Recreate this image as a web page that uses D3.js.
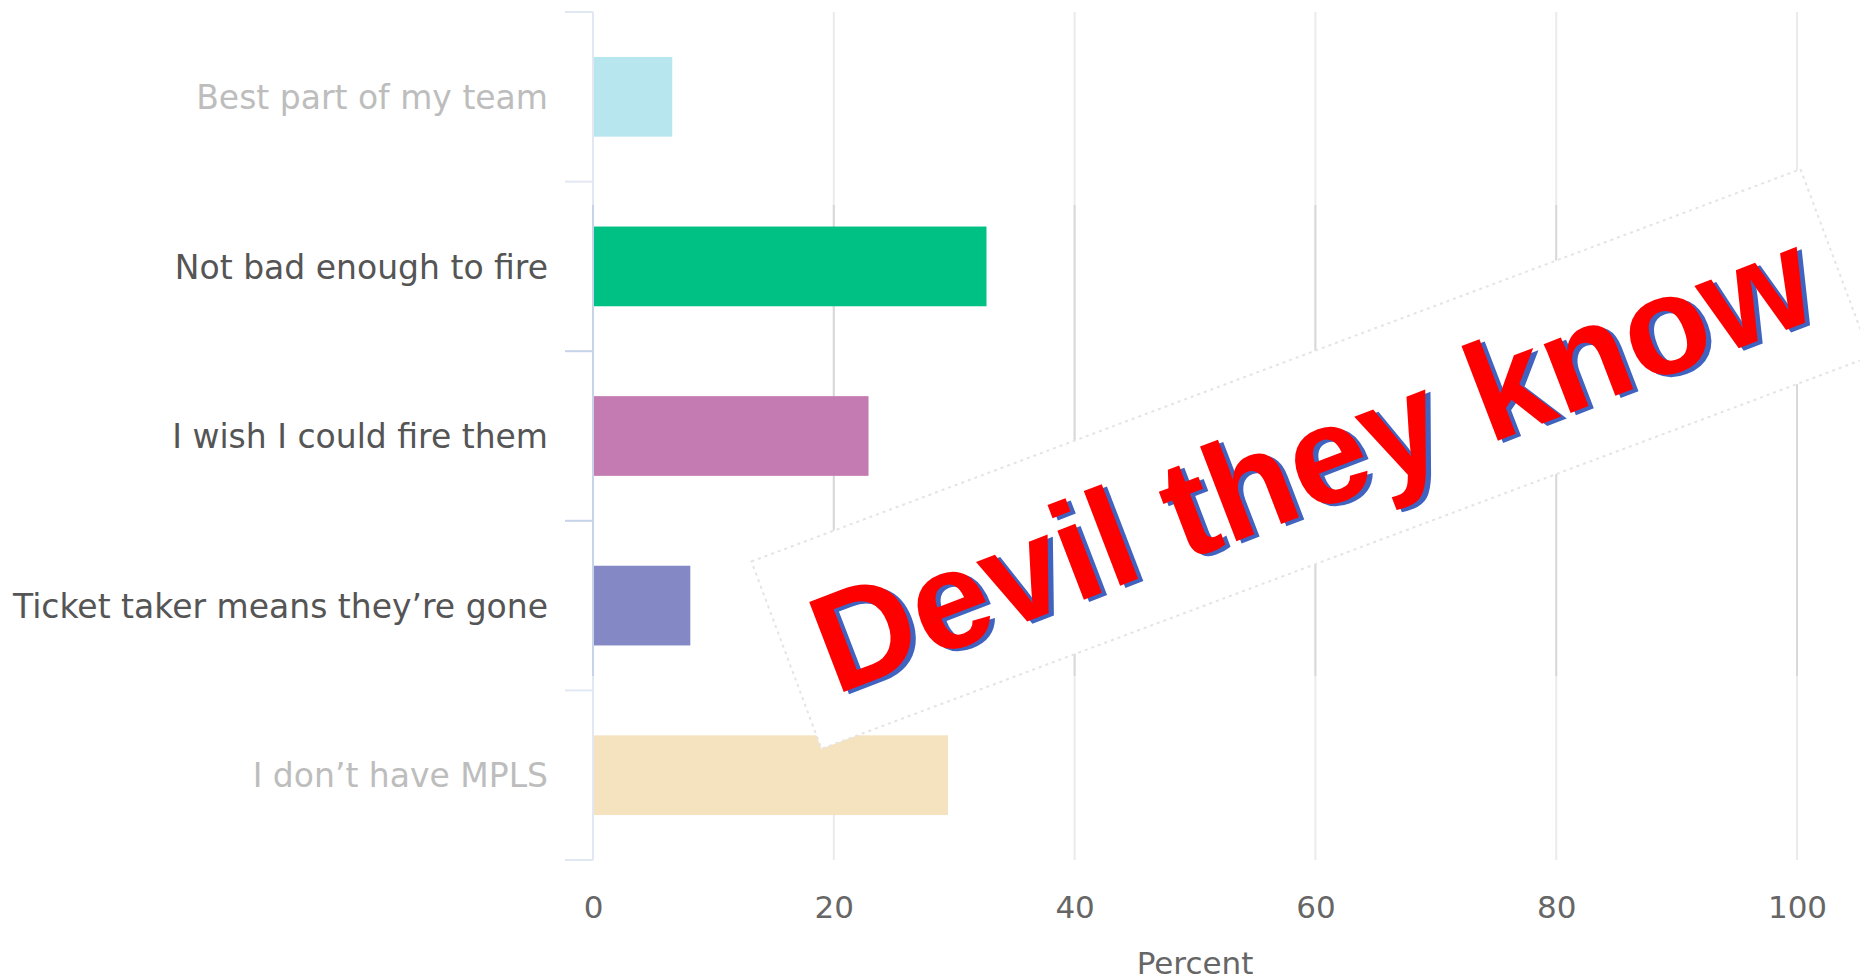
<!DOCTYPE html>
<html>
<head>
<meta charset="utf-8">
<script src="https://cdn.jsdelivr.net/npm/d3@7"></script>
<style>
  body { margin: 0; background: #fff; }
  svg { display: block; }
</style>
</head>
<body>
<svg id="chart"></svg>
<script>
let categories = ["Best part of my team", "Not bad enough to fire", "I wish I could fire them", "Ticket taker means they\u2019re gone", "I don\u2019t have MPLS"];
let percents = [6.5, 32.6, 22.8, 8.0, 29.4];
let barColors = ["#b8e6ee", "#00c184", "#c37bb2", "#8489c6", "#f5e3c0"];
let labelColors = ["#bdbdbd", "#555555", "#555555", "#555555", "#bdbdbd"];
let xTicks = [0, 20, 40, 60, 80, 100];
let axisTitle = "Percent";
let stamp = "Devil they know";

let w = 1860;
let h = 980;
let plotLeft = 593;
let plotRight = 1797;
let plotTop = 12;
let plotBottom = 860;
// the pasted part of the screenshot has slightly darker lines
let darkTop = 205;
let darkBottom = 676;

let svg = d3.select('#chart')
    .attr('width', w)
    .attr('height', h);

let xScale = d3.scaleLinear()
    .domain([0, 100])
    .range([plotLeft, plotRight]);

let yScale = d3.scaleBand()
    .domain(categories)
    .range([plotTop, plotBottom]);

// grid lines
let grid = svg.append('g');
grid.selectAll('line.light')
    .data(xTicks.slice(1))
    .enter()
    .append('line')
    .attr('class', 'light')
    .attr('x1', d => xScale(d))
    .attr('x2', d => xScale(d))
    .attr('y1', plotTop)
    .attr('y2', plotBottom)
    .attr('stroke', '#ebebeb')
    .attr('stroke-width', 2);
grid.selectAll('line.dark')
    .data(xTicks.slice(1))
    .enter()
    .append('line')
    .attr('class', 'dark')
    .attr('x1', d => xScale(d))
    .attr('x2', d => xScale(d))
    .attr('y1', darkTop)
    .attr('y2', darkBottom)
    .attr('stroke', '#d9d9d9')
    .attr('stroke-width', 2);

// bars
let barH = yScale.bandwidth() * 0.47;
svg.append('g')
    .selectAll('rect')
    .data(categories)
    .enter()
    .append('rect')
    .attr('x', xScale(0) + 1)
    .attr('y', d => yScale(d) + (yScale.bandwidth() - barH) / 2)
    .attr('width', (d, i) => xScale(percents[i]) - xScale(0))
    .attr('height', barH)
    .attr('fill', (d, i) => barColors[i]);

// y axis line and ticks between categories
let bounds = categories.map(c => yScale(c)).concat([plotBottom]);
svg.append('line')
    .attr('x1', plotLeft)
    .attr('x2', plotLeft)
    .attr('y1', plotTop)
    .attr('y2', plotBottom)
    .attr('stroke', '#e2e8f2')
    .attr('stroke-width', 2);
svg.append('line')
    .attr('x1', plotLeft)
    .attr('x2', plotLeft)
    .attr('y1', darkTop)
    .attr('y2', darkBottom)
    .attr('stroke', '#c6d3e8')
    .attr('stroke-width', 2);
svg.append('g')
    .selectAll('line')
    .data(bounds)
    .enter()
    .append('line')
    .attr('x1', plotLeft - 28)
    .attr('x2', plotLeft)
    .attr('y1', d => d)
    .attr('y2', d => d)
    .attr('stroke', d => (d > darkTop && d < darkBottom) ? '#c6d3e8' : '#e2e8f2')
    .attr('stroke-width', 2);

// category labels
svg.append('g')
    .selectAll('text')
    .data(categories)
    .enter()
    .append('text')
    .attr('x', plotLeft - 45)
    .attr('y', d => yScale(d) + yScale.bandwidth() / 2)
    .attr('dy', '0.37em')
    .attr('text-anchor', 'end')
    .attr('font-family', 'DejaVu Sans')
    .attr('font-size', 33)
    .attr('fill', (d, i) => labelColors[i])
    .text(d => d);

// x axis labels
let xAxis = d3.axisBottom(xScale)
    .tickValues(xTicks)
    .tickSize(0)
    .tickPadding(0);
let gx = svg.append('g')
    .attr('transform', 'translate(0,' + 921 + ')')
    .call(xAxis);
gx.select('.domain').remove();
gx.selectAll('text')
    .attr('font-family', 'DejaVu Sans')
    .attr('font-size', 31)
    .attr('fill', '#666')
    .attr('dy', '-0.1em');

svg.append('text')
    .attr('x', (plotLeft + plotRight) / 2)
    .attr('y', 974)
    .attr('text-anchor', 'middle')
    .attr('font-family', 'DejaVu Sans')
    .attr('font-size', 31)
    .attr('fill', '#666')
    .text(axisTitle);

// stamp pasted over the chart
let stampG = svg.append('g')
    .attr('transform', 'translate(1311,459) rotate(-20.5)');
stampG.append('rect')
    .attr('x', -560)
    .attr('y', -100)
    .attr('width', 1120)
    .attr('height', 200)
    .attr('fill', '#fff')
    .attr('stroke', '#e4e4e4')
    .attr('stroke-width', 2)
    .attr('stroke-dasharray', '3,4');
stampG.append('text')
    .attr('x', 4)
    .attr('y', 54)
    .attr('text-anchor', 'middle')
    .attr('font-family', 'Liberation Sans')
    .attr('font-weight', 'bold')
    .attr('font-size', 140)
    .attr('fill', '#4163c0')
    .attr('transform', 'rotate(-0.5)')
    .text(stamp);
stampG.append('text')
    .attr('x', 0)
    .attr('y', 50)
    .attr('text-anchor', 'middle')
    .attr('font-family', 'Liberation Sans')
    .attr('font-weight', 'bold')
    .attr('font-size', 140)
    .attr('fill', '#ff0000')
    .attr('transform', 'rotate(-0.5)')
    .text(stamp);
</script>
</body>
</html>
